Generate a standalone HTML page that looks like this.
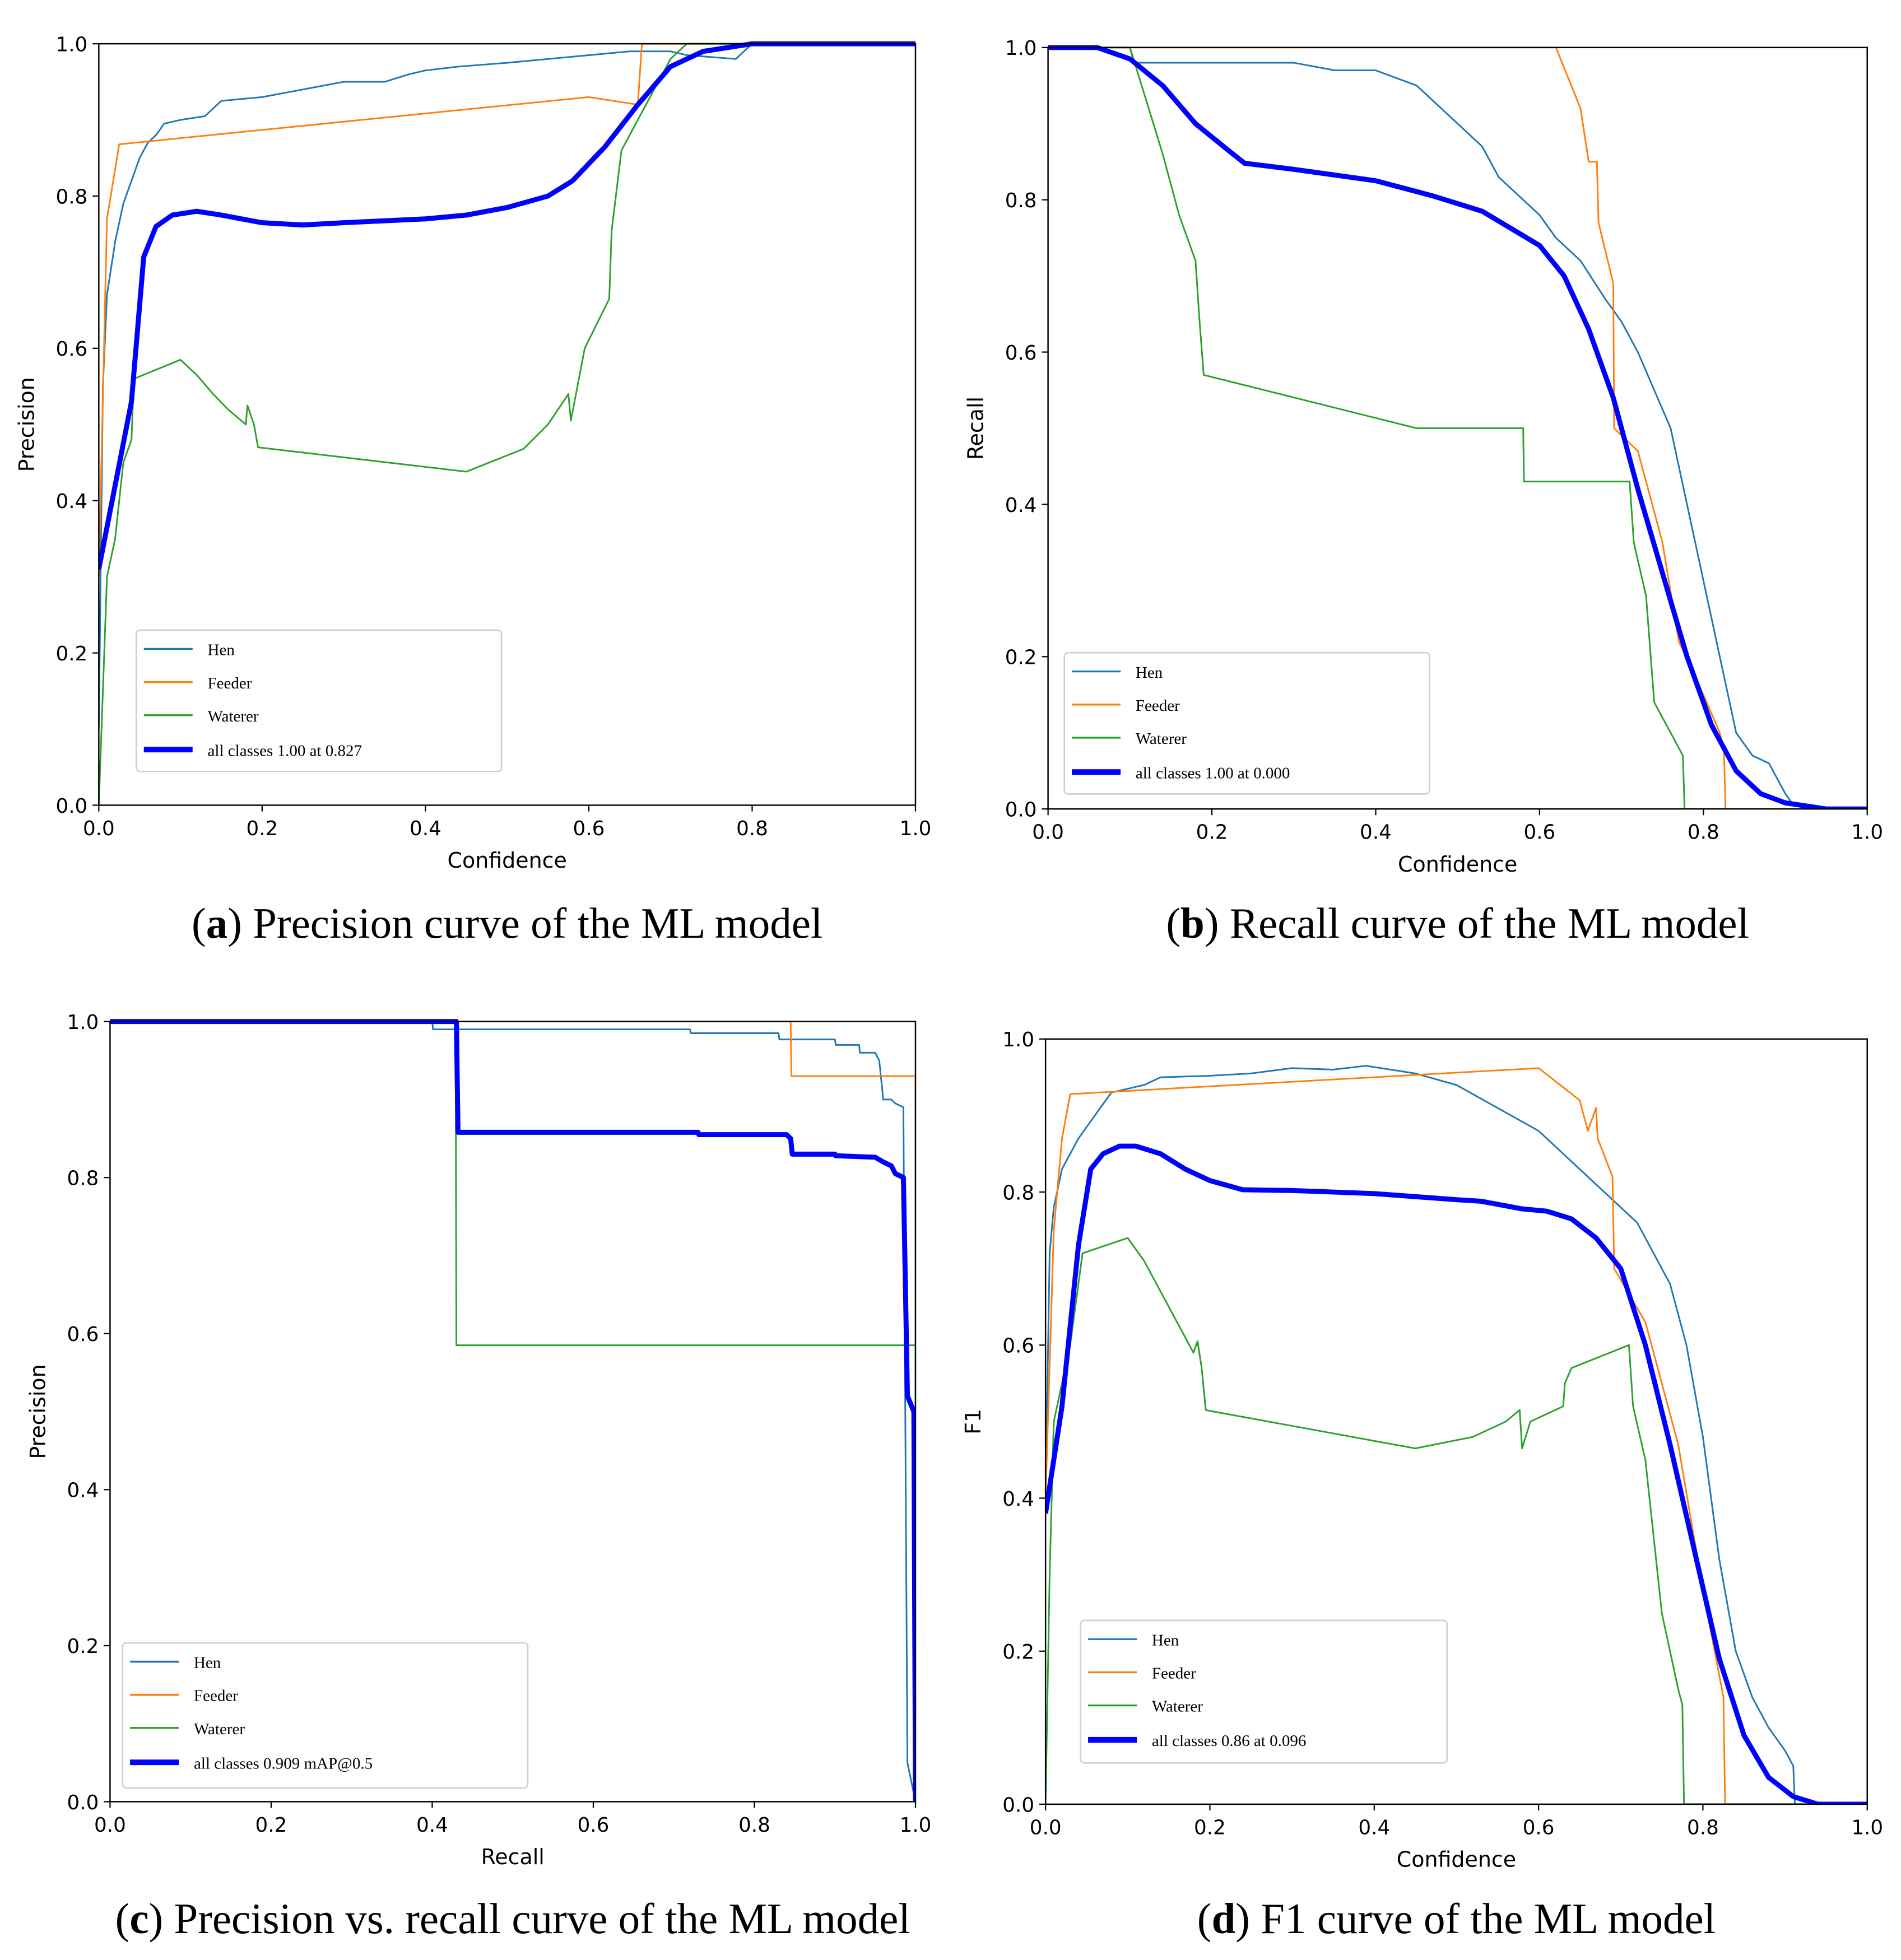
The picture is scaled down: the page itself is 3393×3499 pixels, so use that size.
<!DOCTYPE html>
<html><head><meta charset="utf-8"><style>
html,body{margin:0;padding:0;background:#fff;}
svg{display:block;}
</style></head><body>
<svg id="fig" width="3393" height="3499" viewBox="0 0 1520 1567.6" preserveAspectRatio="none" xmlns="http://www.w3.org/2000/svg"></svg>
<script>
// ---- data (panel a: precision vs confidence) ----
const aHenX=[0,0.005,0.01,0.02,0.03,0.04,0.05,0.06,0.07,0.08,0.1,0.13,0.15,0.2,0.25,0.3,0.35,0.38,0.4,0.44,0.5,0.55,0.6,0.65,0.7,0.72,0.78,0.8,1.0];
const aHenY=[0.1,0.55,0.67,0.74,0.79,0.82,0.85,0.87,0.88,0.895,0.9,0.905,0.925,0.93,0.94,0.95,0.95,0.96,0.965,0.97,0.975,0.98,0.985,0.99,0.99,0.985,0.98,1.0,1.0];
const aFeedX=[0,0.01,0.025,0.6,0.66,0.665,1.0];
const aFeedY=[0.3,0.77,0.868,0.93,0.92,1.0,1.0];
const aWatX=[0,0.01,0.02,0.03,0.04,0.043,0.1,0.12,0.14,0.158,0.18,0.182,0.19,0.195,0.45,0.52,0.55,0.575,0.578,0.595,0.625,0.628,0.64,0.7,0.72,1];
const aWatY=[0,0.3,0.35,0.45,0.48,0.56,0.585,0.565,0.54,0.52,0.5,0.525,0.5,0.47,0.438,0.468,0.5,0.54,0.505,0.6,0.665,0.755,0.86,0.98,1.0,1];
const aAllX=[0,0.02,0.04,0.055,0.07,0.09,0.12,0.15,0.2,0.25,0.3,0.4,0.45,0.5,0.55,0.58,0.62,0.66,0.7,0.74,0.8,1];
const aAllY=[0.31,0.42,0.53,0.72,0.76,0.775,0.78,0.775,0.765,0.762,0.765,0.77,0.775,0.785,0.8,0.82,0.865,0.92,0.97,0.99,1.0,1];
// ---- panel b: recall vs confidence ----
const bHenX=[0,0.1,0.105,0.3,0.35,0.4,0.45,0.48,0.5,0.53,0.55,0.6,0.62,0.65,0.68,0.7,0.72,0.74,0.76,0.78,0.8,0.82,0.84,0.86,0.88,0.9,0.91,0.93,1];
const bHenY=[1,1,0.98,0.98,0.97,0.97,0.95,0.92,0.9,0.87,0.83,0.78,0.75,0.72,0.67,0.64,0.6,0.55,0.5,0.4,0.3,0.2,0.1,0.07,0.06,0.02,0.005,0,0];
const bFeedX=[0,0.62,0.65,0.66,0.67,0.672,0.69,0.691,0.72,0.75,0.77,0.8,0.82,0.825,0.827,1];
const bFeedY=[1,1,0.92,0.85,0.85,0.77,0.69,0.5,0.47,0.35,0.22,0.15,0.1,0.08,0,0];
const bWatX=[0,0.1,0.12,0.14,0.16,0.18,0.185,0.19,0.45,0.58,0.581,0.71,0.715,0.73,0.74,0.775,0.777,1];
const bWatY=[1,1,0.93,0.86,0.78,0.72,0.64,0.57,0.5,0.5,0.43,0.43,0.35,0.28,0.14,0.07,0,0];
const bAllX=[0,0.06,0.1,0.14,0.18,0.22,0.24,0.3,0.4,0.47,0.53,0.6,0.63,0.66,0.69,0.72,0.75,0.78,0.81,0.84,0.87,0.9,0.95,1];
const bAllY=[1,1,0.985,0.95,0.9,0.865,0.848,0.84,0.825,0.805,0.785,0.74,0.7,0.63,0.54,0.42,0.31,0.2,0.11,0.05,0.02,0.008,0,0];
// ---- panel c: precision vs recall ----
const cHenX=[0,0.4,0.401,0.72,0.721,0.83,0.831,0.9,0.901,0.93,0.931,0.95,0.955,0.96,0.97,0.975,0.985,0.99,1];
const cHenY=[1,1,0.99,0.99,0.985,0.985,0.977,0.977,0.97,0.97,0.96,0.96,0.95,0.9,0.9,0.895,0.89,0.05,0];
const cFeedX=[0,0.845,0.846,1,1];
const cFeedY=[1,1,0.93,0.93,0];
const cWatX=[0,0.429,0.43,1,1];
const cWatY=[1,1,0.585,0.585,0];
const cAllX=[0,0.43,0.432,0.73,0.731,0.84,0.845,0.847,0.9,0.901,0.95,0.96,0.97,0.975,0.985,0.99,0.998,1];
const cAllY=[1,1,0.858,0.858,0.855,0.855,0.85,0.83,0.83,0.828,0.826,0.82,0.815,0.805,0.8,0.52,0.5,0];
// ---- panel d: F1 vs confidence ----
const dHenX=[0,0.005,0.01,0.02,0.04,0.06,0.08,0.12,0.14,0.2,0.25,0.3,0.35,0.39,0.45,0.5,0.55,0.6,0.64,0.68,0.72,0.74,0.76,0.78,0.8,0.82,0.84,0.86,0.88,0.9,0.91,0.912,1];
const dHenY=[0.4,0.72,0.78,0.83,0.87,0.9,0.93,0.94,0.95,0.952,0.955,0.962,0.96,0.965,0.955,0.94,0.91,0.88,0.84,0.8,0.76,0.72,0.68,0.6,0.48,0.32,0.2,0.14,0.1,0.07,0.05,0,0];
const dFeedX=[0,0.01,0.02,0.03,0.6,0.65,0.66,0.67,0.672,0.69,0.692,0.73,0.77,0.8,0.825,0.827,1];
const dFeedY=[0.4,0.75,0.87,0.928,0.962,0.92,0.88,0.91,0.87,0.82,0.7,0.63,0.47,0.28,0.14,0,0];
const dWatX=[0,0.005,0.01,0.03,0.045,0.1,0.12,0.14,0.16,0.18,0.185,0.19,0.195,0.45,0.52,0.56,0.577,0.58,0.59,0.63,0.632,0.64,0.71,0.715,0.73,0.74,0.75,0.77,0.775,0.777,1];
const dWatY=[0,0.3,0.5,0.6,0.72,0.74,0.71,0.67,0.63,0.59,0.605,0.57,0.515,0.465,0.48,0.5,0.515,0.465,0.5,0.52,0.55,0.57,0.6,0.52,0.45,0.35,0.25,0.15,0.13,0,0];
const dAllX=[0,0.02,0.04,0.055,0.07,0.09,0.11,0.14,0.17,0.2,0.24,0.3,0.4,0.45,0.5,0.53,0.58,0.61,0.64,0.67,0.7,0.73,0.76,0.79,0.82,0.85,0.88,0.91,0.94,1];
const dAllY=[0.38,0.52,0.73,0.83,0.85,0.86,0.86,0.85,0.83,0.815,0.803,0.802,0.798,0.794,0.79,0.788,0.778,0.775,0.765,0.74,0.7,0.6,0.47,0.33,0.19,0.09,0.035,0.01,0,0];
const ticks=[0,0.2,0.4,0.6,0.8,1.0];
const tickLabels=["0.0","0.2","0.4","0.6","0.8","1.0"];
const legendLabels=["Hen","Feeder","Waterer"];
const allLabels=["all classes 1.00 at 0.827","all classes 1.00 at 0.000","all classes 0.909 mAP@0.5","all classes 0.86 at 0.096"];

const NS="http://www.w3.org/2000/svg";
const svg=document.getElementById('fig');
function mk(tag,attrs,parent){const e=document.createElementNS(NS,tag);for(const k in attrs)e.setAttribute(k,attrs[k]);(parent||svg).appendChild(e);return e;}
const COL=["#1f77b4","#ff7f0e","#2ca02c"];

const panels=[
 {id:'a',x0:79,x1:732,y0:644,y1:35,xl:'Confidence',yl:'Precision',leg:[109,504,292,113],series:[[aHenX,aHenY],[aFeedX,aFeedY],[aWatX,aWatY]],all:[aAllX,aAllY],cap:['a',' Precision curve of the ML model'],capY:750,allL:allLabels[0]},
 {id:'b',x0:838,x1:1493,y0:647,y1:38,xl:'Confidence',yl:'Recall',leg:[851,522,292,113],series:[[bHenX,bHenY],[bFeedX,bFeedY],[bWatX,bWatY]],all:[bAllX,bAllY],cap:['b',' Recall curve of the ML model'],capY:750,allL:allLabels[1]},
 {id:'c',x0:88,x1:732,y0:1441,y1:817,xl:'Recall',yl:'Precision',leg:[98,1314,324,116],series:[[cHenX,cHenY],[cFeedX,cFeedY],[cWatX,cWatY]],all:[cAllX,cAllY],cap:['c',' Precision vs. recall curve of the ML model'],capY:1546,allL:allLabels[2]},
 {id:'d',x0:836,x1:1493,y0:1443,y1:831,xl:'Confidence',yl:'F1',leg:[864,1296,293,114],series:[[dHenX,dHenY],[dFeedX,dFeedY],[dWatX,dWatY]],all:[dAllX,dAllY],cap:['d',' F1 curve of the ML model'],capY:1546,allL:allLabels[3]}
];
panels.forEach(p=>{
 const g=mk('g',{});
 
 
 const sx=v=>p.x0+v*(p.x1-p.x0), sy=v=>p.y0+v*(p.y1-p.y0);
 const clipId='clip'+p.id;
 const cp=mk('clipPath',{id:clipId},g);
 mk('rect',{x:p.x0,y:p.y1-2,width:p.x1-p.x0,height:p.y0-p.y1+2},cp);
 const path=(xs,ys,col,w,name)=>{let d='';xs.forEach((x,i)=>{d+=(i?'L':'M')+sx(x).toFixed(2)+','+sy(ys[i]).toFixed(2);});
   const e=mk('path',{d:d,fill:'none',stroke:col,'stroke-width':w,'stroke-linejoin':'round','clip-path':'url(#'+clipId+')'},g);
   
   };
 p.series.forEach((s,i)=>path(s[0],s[1],COL[i],1.3,'line-'+legendLabels[i].toLowerCase()));
 path(p.all[0],p.all[1],'#0000ff',4,'line-all-classes');
 const fr=mk('rect',{x:p.x0,y:p.y1,width:p.x1-p.x0,height:p.y0-p.y1,fill:'none',stroke:'#000','stroke-width':1.1},g);
 
 
 ticks.forEach((t,i)=>{
  mk('line',{x1:sx(t),x2:sx(t),y1:p.y0,y2:p.y0+5,stroke:'#000','stroke-width':1},g);
  mk('line',{x1:p.x0,x2:p.x0-5,y1:sy(t),y2:sy(t),stroke:'#000','stroke-width':1},g);
  const tx=mk('text',{x:sx(t),y:p.y0+24,'text-anchor':'middle','font-family':'DejaVu Sans, Liberation Sans, sans-serif','font-size':16},g);
  tx.textContent=tickLabels[i];
  
  
  const ty=mk('text',{x:p.x0-9,y:sy(t)+6,'text-anchor':'end','font-family':'DejaVu Sans, Liberation Sans, sans-serif','font-size':16},g);
  ty.textContent=tickLabels[i];
  
  
 });
 const xt=mk('text',{x:(p.x0+p.x1)/2,y:p.y0+50,'text-anchor':'middle','font-family':'DejaVu Sans, Liberation Sans, sans-serif','font-size':17},g);
 xt.textContent=p.xl;
 
 
 const yx=p.x0-52, yy=(p.y0+p.y1)/2;
 const yt=mk('text',{x:yx,y:yy,'text-anchor':'middle','font-family':'DejaVu Sans, Liberation Sans, sans-serif','font-size':17,transform:'rotate(-90 '+yx+' '+yy+')'},g);
 yt.textContent=p.yl;
 
 
 const [lx,ly,lw,lh]=p.leg;
 const lg=mk('g',{},g);
 
 
 mk('rect',{x:lx,y:ly,width:lw,height:lh,rx:3,fill:'#fff',stroke:'#d0d0d0','stroke-width':1.2},lg);
 const names=legendLabels.concat([p.allL]);
 names.forEach((n,i)=>{
  const yy2=ly+15+i*26.5+(i==3?1:0);
  mk('line',{x1:lx+6,x2:lx+45,y1:yy2,y2:yy2,stroke:i<3?COL[i]:'#0000ff','stroke-width':i<3?1.5:4.5},lg);
  const t=mk('text',{x:lx+57,y:yy2+5,'font-family':'Liberation Serif, serif','font-size':13},lg);
  t.textContent=n;
  
  
 });
 const c=mk('text',{x:(p.x0+p.x1)/2,y:p.capY,'text-anchor':'middle','font-family':'Liberation Serif, serif','font-size':34.5},g);
 
 
 const s1=mk('tspan',{},c);s1.textContent='(';
 const s2=mk('tspan',{'font-weight':'bold'},c);s2.textContent=p.cap[0];
 const s3=mk('tspan',{},c);s3.textContent=')'+p.cap[1];
});
</script>
</body></html>
